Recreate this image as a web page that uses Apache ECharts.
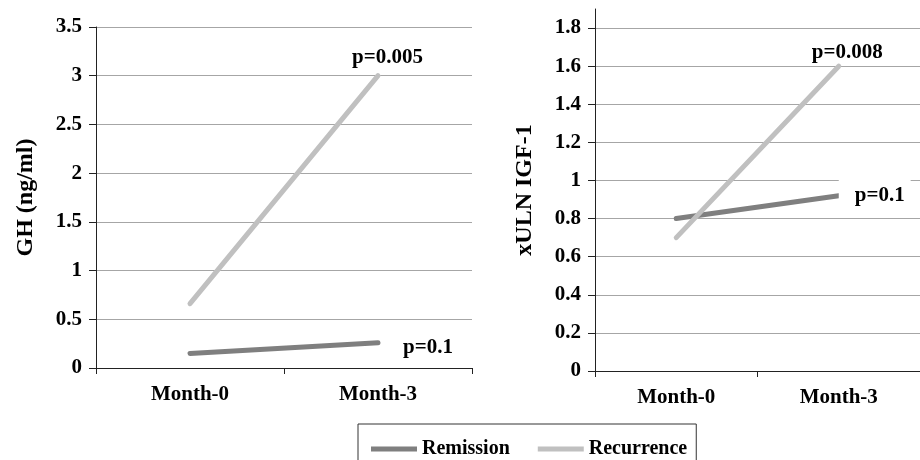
<!DOCTYPE html>
<html>
<head>
<meta charset="utf-8">
<script src="https://cdn.jsdelivr.net/npm/echarts@6/dist/echarts.min.js"></script>
<style>
  html, body { margin: 0; padding: 0; background: #fff; }
  #chart { width: 920px; height: 460px; }
</style>
</head>
<body>
<div id="chart"></div>
<script>
// ---- data ----
const categories = ['Month-0', 'Month-3'];
const ghRemission = [0.15, 0.26];
const ghRecurrence = [0.66, 3.0];
const igfRemission = [0.80, 0.92];
const igfRecurrence = [0.70, 1.60];
const ghTicks = { min: 0, max: 3.5, interval: 0.5 };
const igfTicks = { min: 0, max: 1.9, interval: 0.2 };
const ghPRemission = 'p=0.1';
const ghPRecurrence = 'p=0.005';
const igfPRemission = 'p=0.1';
const igfPRecurrence = 'p=0.008';
const seriesNames = ['Remission', 'Recurrence'];

// ---- style ----
const FONT = 'Liberation Serif';
const remColor = '#7f7f7f';
const recColor = '#c0c0c0';
const textBase = { fontFamily: FONT, fontWeight: 'bold', fontSize: 21, color: '#000' };

function xAxis(gridIndex) {
  return {
    type: 'category', gridIndex, data: categories, boundaryGap: true,
    axisLine: { lineStyle: { color: '#222', width: 1 } },
    axisTick: { show: true, length: 6, inside: false, lineStyle: { color: '#222' } },
    axisLabel: Object.assign({ margin: 16 }, textBase),
    splitLine: { show: false }
  };
}
function yAxis(gridIndex, ticks, name) {
  const onTick = Math.abs(ticks.max / ticks.interval - Math.round(ticks.max / ticks.interval)) < 1e-9;
  return {
    type: 'value', gridIndex, min: ticks.min, max: ticks.max, interval: ticks.interval,
    name, nameLocation: 'middle', nameGap: 58, nameRotate: 90,
    nameTextStyle: Object.assign({}, textBase, { fontSize: 24 }),
    axisLine: { show: true, lineStyle: { color: '#222', width: 1 } },
    axisTick: { show: true, length: 7, lineStyle: { color: '#222' } },
    axisLabel: Object.assign({ margin: 14, showMaxLabel: onTick }, textBase),
    splitLine: { show: true, showMaxLine: onTick, lineStyle: { color: '#a6a6a6', width: 1 } }
  };
}

const lineSeries = (name, color, xi, data, endLabel) => ({
  name, type: 'line', xAxisIndex: xi, yAxisIndex: xi, data,
  symbol: 'none', showSymbol: false, silent: true, animation: false,
  lineStyle: { color, width: 5, cap: 'round' }, itemStyle: { color },
  endLabel: Object.assign({ show: true }, textBase, endLabel)
});

const option = {
  backgroundColor: '#fff',
  animation: false,
  grid: [
    { left: 96, right: 448, top: 27, bottom: 92 },
    { left: 595, right: 0, top: 9, bottom: 89 }
  ],
  xAxis: [xAxis(0), xAxis(1)],
  yAxis: [yAxis(0, ghTicks, 'GH (ng/ml)'), yAxis(1, igfTicks, 'xULN IGF-1')],
  legend: {
    data: seriesNames.map((n, i) => ({ name: n, icon: 'rect', itemStyle: { color: i === 0 ? remColor : recColor } })),
    left: 358, top: 424,
    borderColor: '#333', borderWidth: 1,
    padding: [15, 9, 30, 13],
    itemWidth: 46, itemHeight: 5, itemGap: 28,
    textStyle: Object.assign({}, textBase, { fontSize: 20 })
  },
  series: [
    lineSeries('Remission', remColor, 0, ghRemission, { distance: 25, offset: [0, 5], formatter: ghPRemission }),
    lineSeries('Recurrence', recColor, 0, ghRecurrence, { distance: 0, offset: [-26, -18], formatter: ghPRecurrence }),
    lineSeries('Remission', remColor, 1, igfRemission, { distance: 0, backgroundColor: '#fff', padding: [8, 6, 8, 16], formatter: igfPRemission }),
    lineSeries('Recurrence', recColor, 1, igfRecurrence, { distance: 0, offset: [-27, -14], formatter: igfPRecurrence })
  ]
};

const chart = echarts.init(document.getElementById('chart'), null, { renderer: 'canvas' });
chart.setOption(option);
</script>
</body>
</html>
